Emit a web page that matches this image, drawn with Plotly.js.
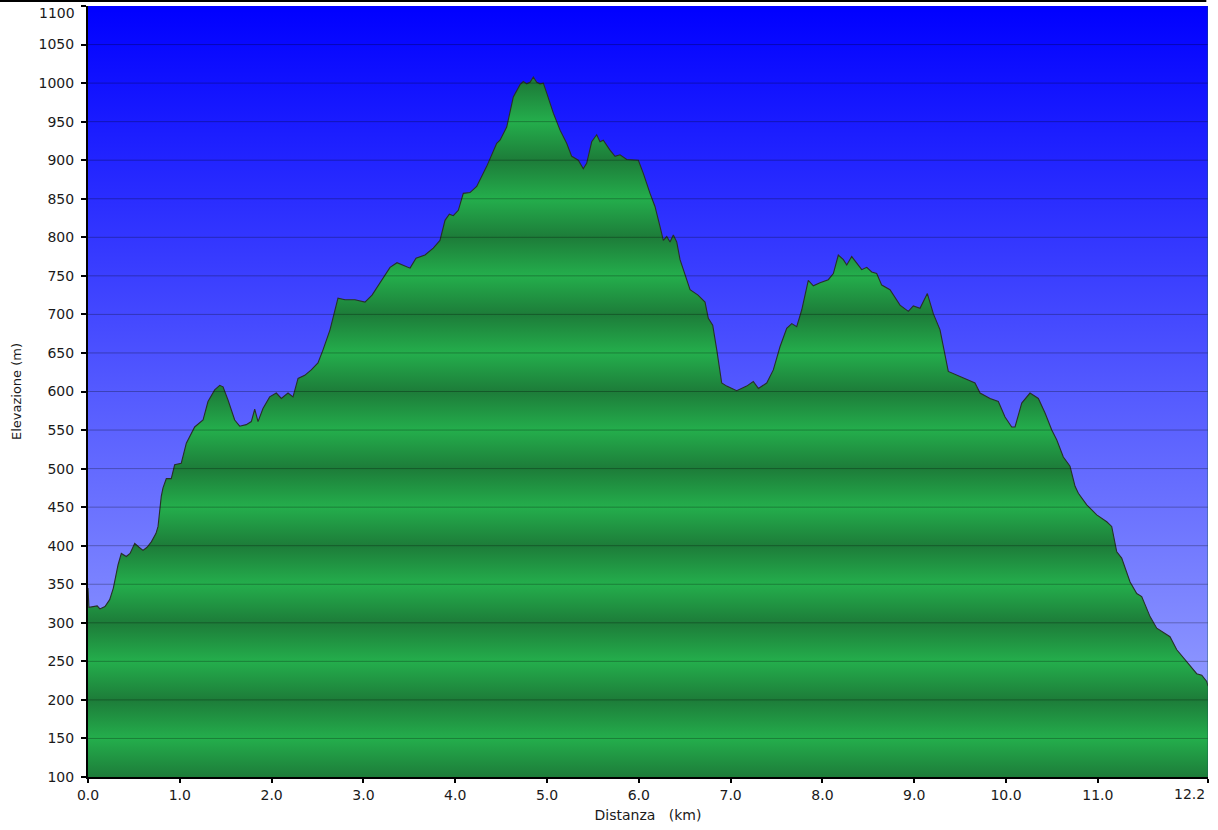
<!DOCTYPE html>
<html>
<head>
<meta charset="utf-8">
<script src="https://cdn.plot.ly/plotly-3.0.1.min.js"></script>
<style>
  html, body { margin: 0; padding: 0; background: #ffffff; }
  #chart { width: 1218px; height: 830px; }
</style>
</head>
<body>
<div id="chart"></div>
<script>
// ---- Data ----
const distanceKm = [
  0.000, 0.010, 0.100, 0.130, 0.185, 0.236, 0.276, 0.327, 0.363, 0.417,
  0.458, 0.509, 0.556, 0.599, 0.643, 0.690, 0.741, 0.763, 0.798, 0.817,
  0.853, 0.907, 0.944, 1.016, 1.071, 1.162, 1.253, 1.307, 1.380, 1.435,
  1.471, 1.525, 1.598, 1.652, 1.724, 1.779, 1.816, 1.852, 1.906, 1.979,
  2.051, 2.106, 2.179, 2.233, 2.288, 2.361, 2.432, 2.505, 2.560, 2.636,
  2.723, 2.800, 2.908, 3.017, 3.094, 3.181, 3.290, 3.366, 3.453, 3.508,
  3.573, 3.671, 3.761, 3.834, 3.889, 3.936, 3.979, 4.034, 4.088, 4.161,
  4.234, 4.343, 4.452, 4.488, 4.561, 4.633, 4.706, 4.742, 4.779, 4.815,
  4.851, 4.888, 4.924, 4.960, 4.997, 5.033, 5.069, 5.142, 5.214, 5.269,
  5.341, 5.395, 5.432, 5.487, 5.541, 5.577, 5.613, 5.686, 5.741, 5.795,
  5.868, 5.995, 6.049, 6.122, 6.176, 6.231, 6.267, 6.304, 6.340, 6.376,
  6.413, 6.449, 6.503, 6.558, 6.645, 6.721, 6.757, 6.805, 6.849, 6.903,
  6.957, 7.066, 7.175, 7.247, 7.302, 7.393, 7.465, 7.538, 7.611, 7.666,
  7.720, 7.775, 7.846, 7.901, 7.974, 8.064, 8.119, 8.173, 8.228, 8.265,
  8.319, 8.374, 8.428, 8.483, 8.537, 8.591, 8.646, 8.736, 8.845, 8.936,
  8.990, 9.063, 9.143, 9.208, 9.281, 9.371, 9.535, 9.662, 9.717, 9.826,
  9.916, 9.989, 10.062, 10.098, 10.171, 10.261, 10.352, 10.425, 10.498, 10.553,
  10.624, 10.697, 10.752, 10.788, 10.879, 10.988, 11.097, 11.151, 11.206, 11.260,
  11.351, 11.424, 11.478, 11.569, 11.642, 11.786, 11.860, 11.968, 12.077, 12.132,
  12.186, 12.200
];
const elevationM = [
  345, 320, 322, 318, 321, 330, 345, 375, 390, 386,
  390, 403, 398, 394, 398, 405, 416, 425, 464, 475,
  487, 487, 505, 507, 533, 554, 563, 587, 602, 608,
  606, 589, 563, 555, 557, 561, 577, 561, 578, 593,
  598, 591, 598, 593, 617, 621, 628, 637, 654, 680,
  721, 719, 719, 716, 725, 741, 761, 767, 763, 760,
  773, 777, 786, 796, 822, 830, 828, 835, 857, 858,
  866, 892, 922, 926, 943, 982, 998, 1002, 999, 1001,
  1008, 1001, 999, 1000, 987, 974, 961, 939, 922, 905,
  900, 889, 896, 924, 933, 924, 926, 913, 905, 907,
  901, 900, 883, 857, 840, 814, 796, 801, 794, 803,
  794, 771, 751, 732, 725, 716, 695, 686, 654, 611,
  607, 601, 607, 613, 604, 611, 628, 658, 682, 688,
  684, 706, 744, 737, 741, 745, 753, 777, 771, 764,
  775, 766, 758, 761, 755, 753, 738, 732, 712, 704,
  711, 708, 727, 701, 680, 626, 617, 611, 598, 591,
  587, 567, 554, 554, 585, 598, 591, 572, 550, 537,
  515, 503, 477, 468, 453, 440, 431, 425, 392, 384,
  353, 338, 334, 308, 293, 282, 265, 250, 234, 232,
  224, 218
];

// Axis settings
const xTickVals = [0, 1, 2, 3, 4, 5, 6, 7, 8, 9, 10, 11, 12.2];
const xTickText = ["0.0", "1.0", "2.0", "3.0", "4.0", "5.0", "6.0", "7.0", "8.0", "9.0", "10.0", "11.0", "12.2"];
const xRange = [0, 12.2];
const yRange = [100, 1100];
const yStep = 50;
const yTickVals = [];
for (let v = yRange[0]; v <= yRange[1]; v += yStep) yTickVals.push(v);
const yTickText = yTickVals.map(String);
const gridVals = yTickVals.filter(v => v > yRange[0] && v < yRange[1]);

// Edge labels are nudged inward (as in the reference), so draw them as annotations
const lastX = xTickVals[xTickVals.length - 1];
const lastY = yTickVals[yTickVals.length - 1];
const xTickTextAxis = xTickText.map((t, i) => (xTickVals[i] === lastX ? "" : t));
const yTickTextAxis = yTickText.map((t, i) => (yTickVals[i] === lastY ? "" : t));

// ---- Styles ----
const FONT = "DejaVu Sans, Verdana, sans-serif";
const TXT = "#1a1a1a";
const greenDark = "rgb(29,124,57)";
const greenBright = "rgb(36,174,76)";

// Banded green gradient: dark at every 100 m, bright at the 50 m in between
const bandScale = yTickVals.map(v => [
  (v - yRange[0]) / (yRange[1] - yRange[0]),
  (v % 100 === 0) ? greenDark : greenBright
]);

const bgTrace = {
  x: [xRange[0], xRange[1], xRange[1], xRange[0], xRange[0]],
  y: [yRange[0], yRange[0], yRange[1], yRange[1], yRange[0]],
  mode: "lines",
  fill: "toself",
  line: { width: 0 },
  fillgradient: {
    type: "vertical",
    start: yRange[0],
    stop: yRange[1],
    colorscale: [[0, "rgb(160,170,255)"], [0.5, "rgb(84,90,255)"], [1, "rgb(0,0,255)"]]
  },
  hoverinfo: "skip",
  showlegend: false
};

const profileTrace = {
  x: distanceKm,
  y: elevationM,
  mode: "lines",
  fill: "tozeroy",
  line: { color: "rgb(40,48,40)", width: 1.1 },
  fillgradient: {
    type: "vertical",
    start: yRange[0],
    stop: yRange[1],
    colorscale: bandScale
  },
  showlegend: false
};

const shapes = gridVals.map(v => ({
  type: "line", xref: "x", yref: "y",
  x0: xRange[0], x1: xRange[1], y0: v, y1: v,
  line: { color: "rgba(0,0,0,0.28)", width: 1 },
  layer: "above"
}));
// right border of the plot
shapes.push({
  type: "line", xref: "x", yref: "y",
  x0: xRange[1], x1: xRange[1], y0: yRange[0], y1: yRange[1],
  line: { color: "rgba(20,90,80,0.7)", width: 1 },
  layer: "above"
});
// top frame line of the picture
shapes.push({
  type: "line", xref: "paper", yref: "paper",
  x0: -88 / 1120, x1: 0.9985, y0: 1.0065, y1: 1.0065,
  line: { color: "#000000", width: 2 }
});

const annotations = [
  {
    xref: "x", yref: "y", x: lastX, y: yRange[0],
    text: xTickText[xTickText.length - 1],
    showarrow: false, xanchor: "right", yanchor: "top",
    xshift: -1, yshift: -7,
    font: { family: FONT, size: 14, color: TXT }
  },
  {
    xref: "paper", yref: "y", x: 0, y: lastY,
    text: yTickText[yTickText.length - 1],
    showarrow: false, xanchor: "right", yanchor: "top",
    xshift: -11, yshift: 3,
    font: { family: FONT, size: 14, color: TXT }
  }
];

const layout = {
  width: 1218,
  height: 830,
  margin: { l: 88, r: 10, t: 6, b: 53 },
  paper_bgcolor: "#ffffff",
  plot_bgcolor: "#ffffff",
  showlegend: false,
  font: { family: FONT, color: TXT, size: 14 },
  xaxis: {
    range: xRange,
    tickvals: xTickVals,
    ticktext: xTickTextAxis,
    showgrid: false,
    zeroline: false,
    showline: true,
    linecolor: "#000000",
    linewidth: 2,
    ticks: "outside",
    ticklen: 4,
    tickwidth: 2,
    tickcolor: "#000000",
    ticklabeloverflow: "allow",
    tickfont: { family: FONT, size: 14, color: TXT },
    title: { text: "Distanza\u00a0\u00a0\u00a0(km)", font: { family: FONT, size: 14, color: TXT }, standoff: 8 },
    automargin: false,
    fixedrange: true
  },
  yaxis: {
    range: yRange,
    tickvals: yTickVals,
    ticktext: yTickTextAxis,
    showgrid: false,
    zeroline: false,
    showline: true,
    linecolor: "#000000",
    linewidth: 2,
    ticks: "outside",
    ticklen: 5,
    tickwidth: 2,
    tickcolor: "#000000",
    ticklabelstandoff: 4,
    ticklabeloverflow: "allow",
    tickfont: { family: FONT, size: 14, color: TXT },
    title: { text: "Elevazione (m)", font: { family: FONT, size: 13, color: TXT }, standoff: 14 },
    automargin: false,
    fixedrange: true
  },
  shapes: shapes,
  annotations: annotations
};

Plotly.newPlot("chart", [bgTrace, profileTrace], layout, { staticPlot: true, displayModeBar: false });
</script>
</body>
</html>
